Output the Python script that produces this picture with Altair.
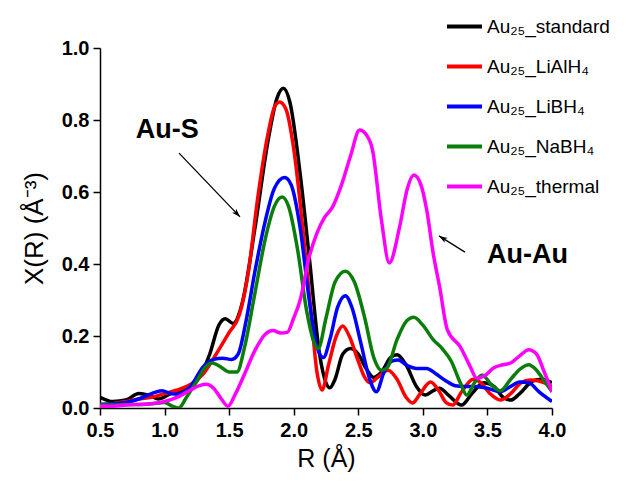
import math
import altair as alt
import pandas as pd

# ---- data ----
series = ["Au₂₅_standard", "Au₂₅_LiAlH₄", "Au₂₅_LiBH₄", "Au₂₅_NaBH₄", "Au₂₅_thermal"]
colors = ["#000000", "#ff0000", "#0000ff", "#0a7d0a", "#ff00ff"]

std_r = [0.50, 0.60, 0.70, 0.80, 0.88, 0.95, 1.05, 1.15, 1.25, 1.35, 1.42, 1.47, 1.53, 1.60, 1.70, 1.80,
         1.87, 1.92, 1.97, 2.05, 2.12, 2.20, 2.25, 2.28, 2.32, 2.38, 2.44, 2.50, 2.56, 2.62, 2.68, 2.75,
         2.80, 2.87, 2.95, 3.02, 3.08, 3.13, 3.20, 3.30, 3.38, 3.47, 3.55, 3.62, 3.68, 3.75, 3.85, 3.92, 4.00]
std_x = [0.030, 0.018, 0.022, 0.040, 0.035, 0.025, 0.040, 0.050, 0.075, 0.150, 0.230, 0.248, 0.235, 0.290, 0.500, 0.740,
         0.860, 0.888, 0.850, 0.650, 0.420, 0.150, 0.070, 0.056, 0.080, 0.150, 0.165, 0.150, 0.110, 0.085, 0.100, 0.140,
         0.148, 0.120, 0.060, 0.036, 0.048, 0.055, 0.035, 0.008, 0.040, 0.070, 0.060, 0.030, 0.022, 0.040, 0.075, 0.080, 0.070]

lial_r = [0.50, 0.60, 0.70, 0.80, 0.90, 1.00, 1.10, 1.20, 1.30, 1.40, 1.50, 1.58, 1.65, 1.72, 1.80, 1.85,
          1.89, 1.94, 2.00, 2.07, 2.13, 2.18, 2.22, 2.27, 2.33, 2.38, 2.43, 2.50, 2.55, 2.59, 2.65, 2.73,
          2.80, 2.87, 2.92, 2.98, 3.06, 3.12, 3.18, 3.23, 3.30, 3.39, 3.45, 3.52, 3.60, 3.68, 3.76, 3.83, 3.90, 4.00]
lial_x = [0.010, 0.012, 0.018, 0.025, 0.030, 0.040, 0.050, 0.065, 0.095, 0.150, 0.210, 0.260, 0.380, 0.580, 0.760, 0.835,
          0.850, 0.830, 0.720, 0.500, 0.280, 0.100, 0.050, 0.120, 0.200, 0.228, 0.200, 0.130, 0.085, 0.070, 0.085, 0.105,
          0.080, 0.030, 0.014, 0.040, 0.072, 0.050, 0.015, 0.008, 0.045, 0.080, 0.070, 0.040, 0.022, 0.040, 0.070, 0.078, 0.075, 0.060]

libh_r = [0.50, 0.60, 0.70, 0.80, 0.90, 0.98, 1.05, 1.10, 1.20, 1.30, 1.38, 1.45, 1.52, 1.57, 1.63, 1.70,
          1.78, 1.85, 1.93, 1.98, 2.05, 2.12, 2.18, 2.23, 2.28, 2.34, 2.40, 2.45, 2.52, 2.58, 2.64, 2.70,
          2.76, 2.81, 2.88, 2.95, 3.03, 3.10, 3.18, 3.25, 3.32, 3.40, 3.50, 3.60, 3.68, 3.75, 3.82, 3.90, 4.00]
libh_x = [0.010, 0.012, 0.015, 0.025, 0.040, 0.048, 0.040, 0.038, 0.060, 0.115, 0.135, 0.138, 0.135, 0.150, 0.240, 0.380,
          0.520, 0.610, 0.640, 0.620, 0.500, 0.300, 0.170, 0.140, 0.190, 0.280, 0.312, 0.280, 0.180, 0.090, 0.045, 0.100,
          0.130, 0.133, 0.118, 0.110, 0.110, 0.095, 0.075, 0.062, 0.060, 0.060, 0.055, 0.045, 0.060, 0.072, 0.070, 0.045, 0.018]

nabh_r = [0.50, 0.60, 0.70, 0.80, 0.90, 1.00, 1.06, 1.11, 1.17, 1.25, 1.32, 1.37, 1.43, 1.50, 1.56, 1.62,
          1.70, 1.78, 1.85, 1.91, 1.96, 2.03, 2.10, 2.15, 2.19, 2.25, 2.32, 2.40, 2.47, 2.55, 2.62, 2.68,
          2.72, 2.80, 2.87, 2.93, 3.00, 3.08, 3.15, 3.22, 3.29, 3.34, 3.40, 3.46, 3.53, 3.60, 3.68, 3.76, 3.82, 3.88, 3.95, 4.00]
nabh_x = [0.008, 0.008, 0.010, 0.010, 0.012, 0.015, 0.005, 0.000, 0.030, 0.075, 0.115, 0.125, 0.115, 0.100, 0.100, 0.170,
          0.320, 0.470, 0.560, 0.586, 0.560, 0.440, 0.270, 0.190, 0.165, 0.250, 0.350, 0.380, 0.350, 0.250, 0.140, 0.105,
          0.110, 0.190, 0.240, 0.252, 0.230, 0.190, 0.165, 0.130, 0.070, 0.036, 0.070, 0.092, 0.065, 0.048, 0.080, 0.110, 0.120, 0.105, 0.070, 0.045]

therm_r = [0.50, 0.60, 0.70, 0.80, 0.90, 1.00, 1.10, 1.20, 1.27, 1.32, 1.38, 1.44, 1.49, 1.55, 1.62, 1.70,
           1.78, 1.84, 1.90, 1.95, 2.00, 2.05, 2.12, 2.18, 2.24, 2.30, 2.37, 2.44, 2.51, 2.56, 2.61, 2.68,
           2.74, 2.82, 2.88, 2.93, 2.98, 3.03, 3.08, 3.13, 3.19, 3.29, 3.36, 3.42, 3.48, 3.55, 3.62, 3.68,
           3.75, 3.82, 3.88, 3.94, 4.00]
therm_x = [0.005, 0.005, 0.008, 0.010, 0.012, 0.018, 0.030, 0.050, 0.062, 0.066, 0.055, 0.025, 0.005, 0.040, 0.095, 0.160,
           0.205, 0.215, 0.208, 0.210, 0.250, 0.300, 0.420, 0.486, 0.530, 0.558, 0.620, 0.700, 0.772, 0.760, 0.717, 0.520,
           0.403, 0.503, 0.610, 0.647, 0.625, 0.550, 0.430, 0.336, 0.217, 0.170, 0.120, 0.082, 0.090, 0.112, 0.120, 0.125,
           0.145, 0.162, 0.150, 0.100, 0.045]

x_ticks = [0.5, 0.75, 1.0, 1.25, 1.5, 1.75, 2.0, 2.25, 2.5, 2.75, 3.0, 3.25, 3.5, 3.75, 4.0]
y_ticks = [0.0, 0.1, 0.2, 0.3, 0.4, 0.5, 0.6, 0.7, 0.8, 0.9, 1.0]

# annotations
label_text = ["Au-S", "Au-Au"]
label_r = [1.02, 3.81]
label_x = [0.772, 0.425]
arrow_r1 = [1.112, 3.326]
arrow_x1 = [0.708, 0.433]
arrow_r2 = [1.584, 3.125]
arrow_x2 = [0.531, 0.478]

# ---- build tables ----
W, H = 452, 360
rows = []
for name, rr, xx in zip(series, [std_r, lial_r, libh_r, nabh_r, therm_r],
                        [std_x, lial_x, libh_x, nabh_x, therm_x]):
    for r, v in zip(rr, xx):
        rows.append({"R": r, "X": v, "series": name})
df = pd.DataFrame(rows)

px_per_r = W / 3.5
px_per_x = H / 1.0
angles = []
for a, b, c, d in zip(arrow_r1, arrow_x1, arrow_r2, arrow_x2):
    dx = (c - a) * px_per_r
    dy = -(d - b) * px_per_x
    angles.append((math.degrees(math.atan2(dx, -dy)) + 360) % 360)
arrows = pd.DataFrame({"r1": arrow_r1, "x1": arrow_x1, "r2": arrow_r2, "x2": arrow_x2, "ang": angles})
labels = pd.DataFrame({"t": label_text, "r": label_r, "x": label_x})

FONT = "Liberation Sans"

xscale = alt.Scale(domain=[0.5, 4.0], nice=False, zero=False)
yscale = alt.Scale(domain=[0.0, 1.0], nice=False, zero=False)

lines = alt.Chart(df).mark_line(interpolate="monotone", strokeWidth=3.5, strokeJoin="round", clip=True).encode(
    x=alt.X("R:Q", scale=xscale,
            axis=alt.Axis(title="R (Å)", values=x_ticks, labelFlush=False,
                          labelExpr="(round(datum.value*100) % 50 == 0) ? format(datum.value, '.1f') : ''",
                          titleFontSize=25, titleFontWeight="normal", titlePadding=6,
                          labelPadding=5)),
    y=alt.Y("X:Q", scale=yscale,
            axis=alt.Axis(title="X(R) (Å⁻³)", values=y_ticks, labelFlush=False,
                          labelExpr="(round(datum.value*10) % 2 == 0) ? format(datum.value, '.1f') : ''",
                          titleFontSize=26, titleFontWeight="normal", titlePadding=14,
                          labelPadding=4)),
    color=alt.Color("series:N", title=None, sort=series,
                    scale=alt.Scale(domain=series, range=colors),
                    legend=alt.Legend(orient="none", legendX=345, legendY=-41,
                                      symbolType="stroke", symbolSize=1225, symbolStrokeWidth=4,
                                      labelFontSize=19, labelFont=FONT, labelColor="#000000",
                                      labelOffset=3, rowPadding=10, padding=0, offset=0)),
)

arrow_lines = alt.Chart(arrows).mark_rule(color="#000000", strokeWidth=1.3).encode(
    x=alt.X("r1:Q", scale=xscale), y=alt.Y("x1:Q", scale=yscale),
    x2="r2:Q", y2="x2:Q",
)
arrow_heads = alt.Chart(arrows).mark_point(
    shape="M0,0L0.6,1.8L0,1.35L-0.6,1.8Z", filled=True, color="#000000", size=90, opacity=1
).encode(
    x=alt.X("r2:Q", scale=xscale), y=alt.Y("x2:Q", scale=yscale),
    angle=alt.Angle("ang:Q", scale=None),
)
texts = alt.Chart(labels).mark_text(font=FONT, fontSize=27, fontWeight="bold", color="#000000").encode(
    x=alt.X("r:Q", scale=xscale), y=alt.Y("x:Q", scale=yscale), text="t:N",
)

chart = alt.layer(lines, arrow_lines, arrow_heads, texts).properties(
    width=W, height=H,
    autosize=alt.AutoSizeParams(type="none"),
    padding={"left": 92, "top": 40, "right": 67, "bottom": 68},
    background="#ffffff",
).configure_view(stroke=None).configure_axis(
    grid=False, domainColor="#000000", domainWidth=1.5, tickColor="#000000", tickWidth=1.5,
    tickSize=7, labelFont=FONT, labelFontSize=20, labelFontWeight="bold", labelColor="#000000",
    titleFont=FONT, titleColor="#000000",
)

chart.save("out.html", embed_options={"renderer": "svg", "actions": False})
